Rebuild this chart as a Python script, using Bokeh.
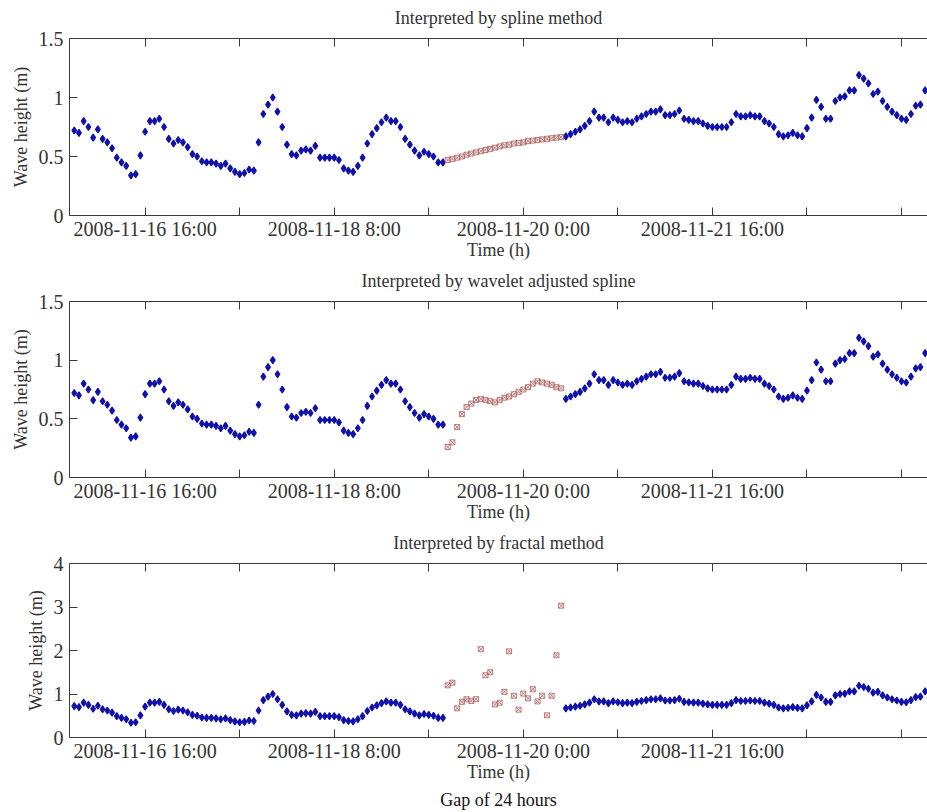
from bokeh.plotting import figure
from bokeh.models import FixedTicker, LinearAxis, Range1d, Title
from bokeh.layouts import column
from bokeh.embed import file_html
from bokeh.resources import INLINE

# ---- data (hours since 2008-11-16 0:00) ----
hours_before = list(range(1, 80))
wave_before = [0.72, 0.70, 0.80, 0.75, 0.66, 0.73, 0.65, 0.62, 0.57, 0.49,
               0.45, 0.42, 0.34, 0.35, 0.51, 0.71, 0.80, 0.80, 0.82, 0.75,
               0.65, 0.61, 0.64, 0.62, 0.58, 0.52, 0.50, 0.46, 0.45, 0.45,
               0.44, 0.42, 0.44, 0.40, 0.37, 0.35, 0.36, 0.39, 0.38, 0.62,
               0.86, 0.94, 1.00, 0.88, 0.75, 0.60, 0.52, 0.51, 0.55, 0.56,
               0.55, 0.59, 0.49, 0.49, 0.49, 0.49, 0.47, 0.40, 0.38, 0.37,
               0.42, 0.49, 0.61, 0.69, 0.74, 0.79, 0.83, 0.80, 0.80, 0.75,
               0.65, 0.60, 0.55, 0.51, 0.54, 0.52, 0.50, 0.45, 0.45]
hours_after = list(range(105, 182))
wave_after = [0.67, 0.69, 0.71, 0.73, 0.76, 0.80, 0.88, 0.83, 0.83, 0.79,
              0.83, 0.81, 0.79, 0.80, 0.79, 0.82, 0.84, 0.86, 0.88, 0.88,
              0.90, 0.85, 0.85, 0.86, 0.89, 0.82, 0.81, 0.80, 0.80, 0.78,
              0.76, 0.75, 0.75, 0.75, 0.75, 0.79, 0.86, 0.84, 0.84, 0.85,
              0.84, 0.84, 0.80, 0.78, 0.75, 0.69, 0.67, 0.68, 0.70, 0.68,
              0.67, 0.74, 0.83, 0.98, 0.92, 0.82, 0.82, 0.97, 1.00, 1.01,
              1.06, 1.06, 1.19, 1.16, 1.12, 1.03, 1.05, 0.97, 0.92, 0.88,
              0.85, 0.82, 0.81, 0.86, 0.93, 0.94, 1.06]
gap_hours = list(range(80, 105))
spline_gap = [0.47, 0.48, 0.49, 0.50, 0.515, 0.525, 0.535, 0.545, 0.555, 0.565,
              0.575, 0.585, 0.595, 0.60, 0.61, 0.615, 0.62, 0.63, 0.635, 0.64,
              0.645, 0.65, 0.655, 0.66, 0.665]
wavelet_gap = [0.26, 0.30, 0.43, 0.54, 0.60, 0.63, 0.66, 0.67, 0.66, 0.65,
               0.64, 0.66, 0.68, 0.69, 0.71, 0.73, 0.75, 0.77, 0.80, 0.82,
               0.81, 0.80, 0.79, 0.77, 0.76]
fractal_gap = [1.20, 1.26, 0.67, 0.82, 0.88, 0.84, 0.88, 2.03, 1.43, 1.50,
               0.76, 0.80, 1.05, 1.98, 0.96, 0.64, 1.01, 0.90, 1.11, 0.83,
               0.96, 0.51, 0.96, 1.89, 3.03]

x_tick_hours = [16, 36, 56, 76, 96, 116, 136, 156, 176]
x_tick_labels = ["2008-11-16 16:00", "", "2008-11-18 8:00", "", "2008-11-20 0:00",
                 "", "2008-11-21 16:00", "", ""]
y_ticks_small = [0, 0.5, 1, 1.5]
y_labels_small = ["0", "0.5", "1", "1.5"]
y_ticks_large = [0, 1, 2, 3, 4]
y_labels_large = ["0", "1", "2", "3", "4"]
panel_titles = ["Interpreted by spline method",
                "Interpreted by wavelet adjusted spline",
                "Interpreted by fractal method"]
caption = "Gap of 24 hours"

FONT = "Liberation Serif"
TXT = "#333333"
AX = "#3a3a3a"
BLUE = "#1010aa"
RED = "#b06464"


def style_axis(ax):
    ax.axis_line_color = AX
    ax.major_tick_line_color = AX
    ax.major_tick_in = 8
    ax.major_tick_out = 0
    ax.minor_tick_in = 0
    ax.minor_tick_out = 0
    ax.minor_tick_line_color = None
    ax.major_label_text_font = FONT
    ax.major_label_text_font_size = "20px"
    ax.major_label_text_color = TXT
    ax.axis_label_text_font = FONT
    ax.axis_label_text_font_size = "18px"
    ax.axis_label_text_font_style = "normal"
    ax.axis_label_text_color = TXT


def make_panel(title, gap_vals, y_ticks, y_labels, height, top, bottom):
    p = figure(width=927, height=height,
               x_range=Range1d(0, 181.5), y_range=Range1d(y_ticks[0], y_ticks[-1]),
               output_backend="svg", toolbar_location=None,
               min_border_left=69, min_border_right=0,
               min_border_top=top, min_border_bottom=bottom,
               x_axis_label="Time (h)", y_axis_label="Wave height (m)")
    p.xgrid.visible = False
    p.ygrid.visible = False
    p.outline_line_color = None
    p.background_fill_color = "white"
    p.border_fill_color = "white"

    xa = p.xaxis[0]
    style_axis(xa)
    xa.ticker = FixedTicker(ticks=x_tick_hours)
    xa.major_label_overrides = {h: lab for h, lab in zip(x_tick_hours, x_tick_labels)}
    xa.major_label_standoff = 2
    xa.axis_label_standoff = -3

    ya = p.yaxis[0]
    style_axis(ya)
    ya.ticker = FixedTicker(ticks=y_ticks)
    ya.major_label_overrides = {t: lab for t, lab in zip(y_ticks, y_labels)}
    ya.major_label_standoff = 6
    ya.axis_label_standoff = 5

    # top frame edge with inward ticks; carries the panel title as its label
    top_ax = LinearAxis(ticker=FixedTicker(ticks=x_tick_hours), axis_label=title)
    style_axis(top_ax)
    top_ax.major_label_text_font_size = "0px"
    top_ax.major_label_standoff = 0
    top_ax.major_label_text_color = None
    top_ax.axis_label_standoff = 11
    p.add_layout(top_ax, "above")

    p.scatter(hours_before, wave_before, marker="diamond", size=7,
              fill_color=BLUE, line_color=BLUE, line_width=1.2)
    p.scatter(hours_after, wave_after, marker="diamond", size=7,
              fill_color=BLUE, line_color=BLUE, line_width=1.2)
    p.scatter(gap_hours, gap_vals, marker="square_x", size=5,
              fill_color=None, line_color=RED, line_width=1, line_alpha=0.85)
    return p


p1 = make_panel(panel_titles[0], spline_gap, y_ticks_small, y_labels_small, 263, 38, 48)
p2 = make_panel(panel_titles[1], wavelet_gap, y_ticks_small, y_labels_small, 263, 38, 49)
p3 = make_panel(panel_titles[2], fractal_gap, y_ticks_large, y_labels_large, 286, 37, 75)

cap = Title(text=caption, align="center", text_font=FONT, text_font_size="18px",
            text_font_style="normal", text_color="#111111", standoff=6)
p3.add_layout(cap, "below")

layout = column(p1, p2, p3, spacing=0)
open("out.html", "w").write(file_html(layout, INLINE))
